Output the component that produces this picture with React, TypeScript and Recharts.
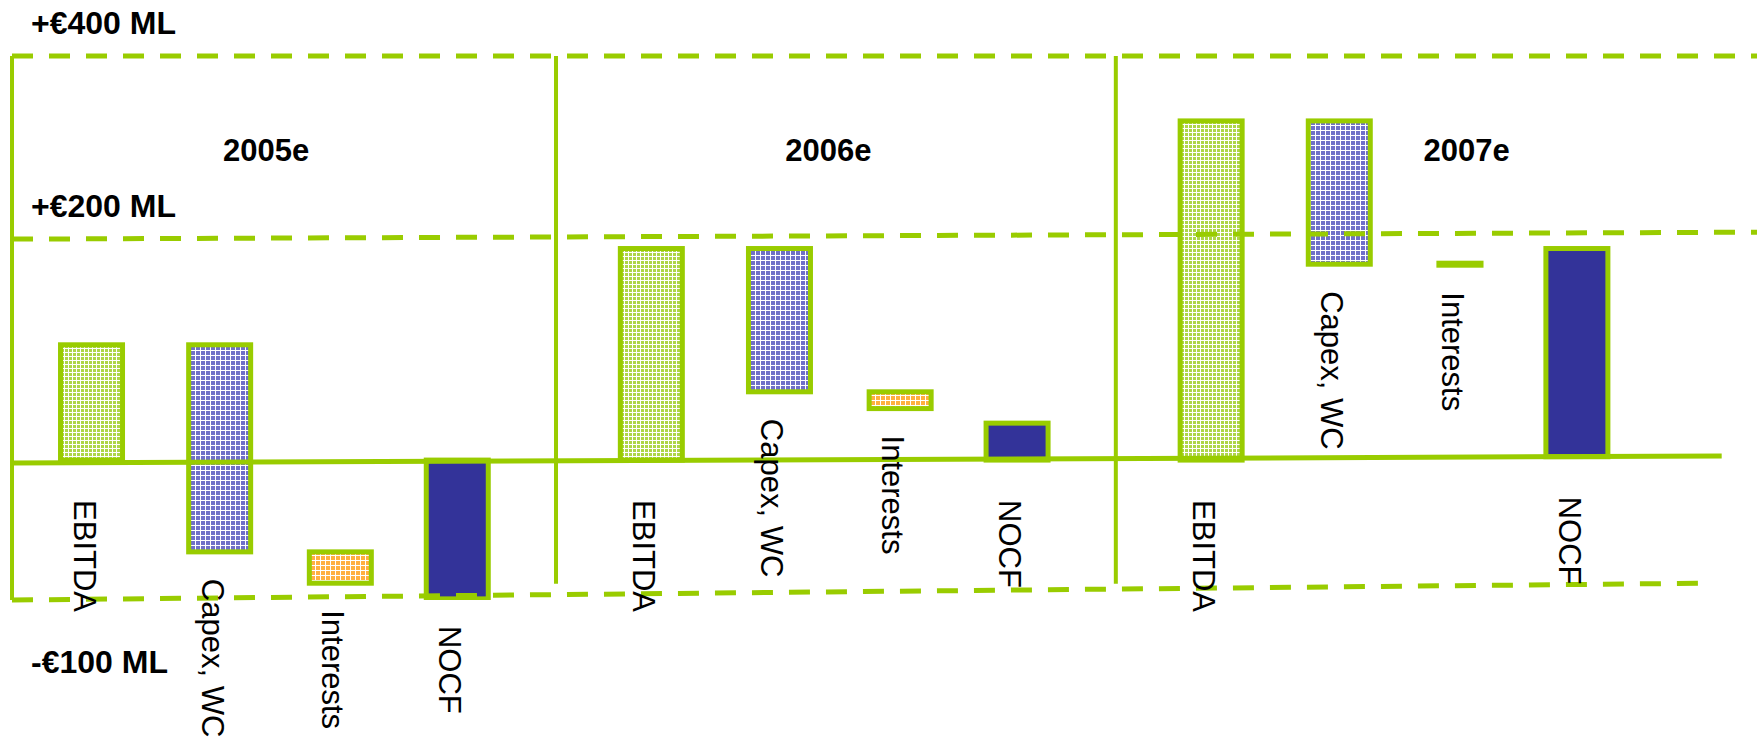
import { ComposedChart, Bar, Cell, XAxis, YAxis, ReferenceLine, ReferenceDot, LabelList } from 'recharts';

const years = ['2005e', '2006e', '2007e'];
const items = ['EBITDA', 'Capex, WC', 'Interests', 'NOCF'];

// floating bars, [low, high] in € ML per year
const ebitda = [[0, 103], [0, 189], [0, 303]];
const capexWc = [[-82, 103], [61, 189], [175, 303]];
const interests = [[-110, -82], [46, 61], [174, 176]];
const nocf = [[-124, 0], [0, 33], [3, 189]];

// the slide's axis is not linear: these are where its guide lines sit on a linear scale
const levelValues = [361, 200, 0, -118];
const levelLabels = ['+€400 ML', '+€200 ML', '', '-€100 ML'];

const GREEN = '#99cc00';
const FONT = '"Liberation Sans", Arial, Helvetica, sans-serif';
const GROUP_STEP = 4.5; // one year panel = 4.5 item slots
const ITEM_OFFSET = [0, 1.03, 2, 2.94];
const X_MIN = -0.643;
const X_MAX = 13.384;
const Y_MIN = -125;
const Y_MAX = 361;
const YEAR_LABEL_Y = 277;
const yearLabelPos = [1.4, 1.42, 2.05];
// the guide lines on the slide run slightly uphill; [left shift, right shift] in value units
const levelTilt: Record<number, [number, number]> = { 361: [0, 0], 200: [-2.6, 3.6], 0: [-2.7, 3.6], [-118]: [-7, 8] };
const levelEnd: Record<number, number> = { 361: X_MAX, 200: X_MAX, 0: 13.1, [-118]: 12.98 };

const series = [ebitda, capexWc, interests, nocf];
const fills = ['url(#pEbitda)', 'url(#pCapex)', 'url(#pInterests)', '#333399'];

const data = years.flatMap((year, g) =>
  items.map((name, i) => ({ year, name, kind: i, pos: g * GROUP_STEP + ITEM_OFFSET[i], range: series[i][g] }))
);

const BarShape = (p: any) => {
  const { x, y, width, height, fill } = p;
  if (Math.abs(height) < 4) {
    // a near-zero item shows only as a short green dash
    const w = width * 0.76;
    return <rect x={x + (width - w) / 2} y={y + height / 2 - 3.5} width={w} height={7} fill={GREEN} />;
  }
  return <rect x={x} y={y} width={width} height={height} fill={fill} stroke={GREEN} strokeWidth={5} />;
};

const renderItemLabel = (props: any) => {
  const { index, value } = props;
  const vb = props.viewBox ?? props;
  const row = data[index];
  const cx = vb.x + vb.width / 2;
  const bottom = Math.max(vb.y, vb.y + vb.height);
  const top = bottom + (row.range[0] <= 3 && row.range[0] >= 0 ? 40 : 27);
  const x0 = cx - 18;
  return (
    <text x={x0} y={top} transform={`rotate(90 ${x0} ${top})`} fontSize={31} fontFamily={FONT} fill="#000">
      {value}
    </text>
  );
};

const LevelLabel = ({ viewBox, text, below }: any) => {
  if (!text || !viewBox) return null;
  // anchor on the left end of the line, which is its lowest point
  const yLeft = viewBox.y + (viewBox.height || 0);
  return (
    <text x={viewBox.x + 19} y={yLeft + (below ? 73 : -22)} fontSize={32} fontWeight="bold" fontFamily={FONT} fill="#000">
      {text}
    </text>
  );
};

const YearLabel = ({ viewBox, text }: any) => {
  if (!viewBox) return null;
  return (
    <text x={viewBox.x + viewBox.width / 2} y={viewBox.y + viewBox.height / 2 + 11} textAnchor="middle" fontSize={31} fontWeight="bold" fontFamily={FONT} fill="#000">
      {text}
    </text>
  );
};

export default function App() {
  return (
    <div style={{ position: 'absolute', left: 0, top: 0, width: 1757, height: 742, background: '#fff' }}>
      <ComposedChart width={1757} height={742} data={data} margin={{ top: 56, right: 0, bottom: 142, left: 12 }}>
        <defs>
          <pattern id="pEbitda" width={4} height={4} patternUnits="userSpaceOnUse">
            <rect width={4} height={4} fill="#aed548" />
            <rect width={4} height={1} fill="#fff" />
            <rect width={1} height={4} fill="#fff" />
          </pattern>
          <pattern id="pCapex" width={5} height={5} patternUnits="userSpaceOnUse">
            <rect width={5} height={5} fill="#7070c8" />
            <rect width={5} height={1} fill="#fff" />
            <rect width={1} height={5} fill="#fff" />
          </pattern>
          <pattern id="pInterests" width={5} height={5} patternUnits="userSpaceOnUse">
            <rect width={5} height={5} fill="#ffb040" />
            <rect width={5} height={1} fill="#fff" />
            <rect width={1} height={5} fill="#fff" />
          </pattern>
        </defs>
        <XAxis type="number" dataKey="pos" domain={[X_MIN, X_MAX]} allowDataOverflow hide />
        <YAxis type="number" domain={[Y_MIN, Y_MAX]} allowDataOverflow hide />

        <Bar dataKey="range" barSize={62} shape={BarShape} isAnimationActive={false}>
          {data.map((d, i) => (
            <Cell key={i} fill={fills[d.kind]} />
          ))}
          <LabelList dataKey="name" content={renderItemLabel} />
        </Bar>

        {/* panel frame */}
        <ReferenceLine x={X_MIN} stroke={GREEN} strokeWidth={4} ifOverflow="visible" />
        {[1, 2].map((g) => (
          <ReferenceLine
            key={g}
            segment={[{ x: g * GROUP_STEP - 0.77, y: Y_MAX }, { x: g * GROUP_STEP - 0.77, y: -110.5 }]}
            stroke={GREEN}
            strokeWidth={4}
            ifOverflow="visible"
          />
        ))}

        {/* guide lines */}
        {levelValues.map((v, i) => (
          <ReferenceLine
            key={'l' + i}
            segment={[
              { x: X_MIN, y: v + levelTilt[v][0] },
              { x: levelEnd[v], y: v + levelTilt[v][1] },
            ]}
            stroke={GREEN}
            strokeWidth={5}
            strokeDasharray={v === 0 ? undefined : '21 16'}
            ifOverflow="visible"
            label={<LevelLabel text={levelLabels[i]} below={v < 0} />}
          />
        ))}

        {years.map((y, g) => (
          <ReferenceDot
            key={y}
            x={g * GROUP_STEP + yearLabelPos[g]}
            y={YEAR_LABEL_Y}
            r={1}
            fill="none"
            stroke="none"
            ifOverflow="visible"
            label={<YearLabel text={y} />}
          />
        ))}
      </ComposedChart>
    </div>
  );
}
